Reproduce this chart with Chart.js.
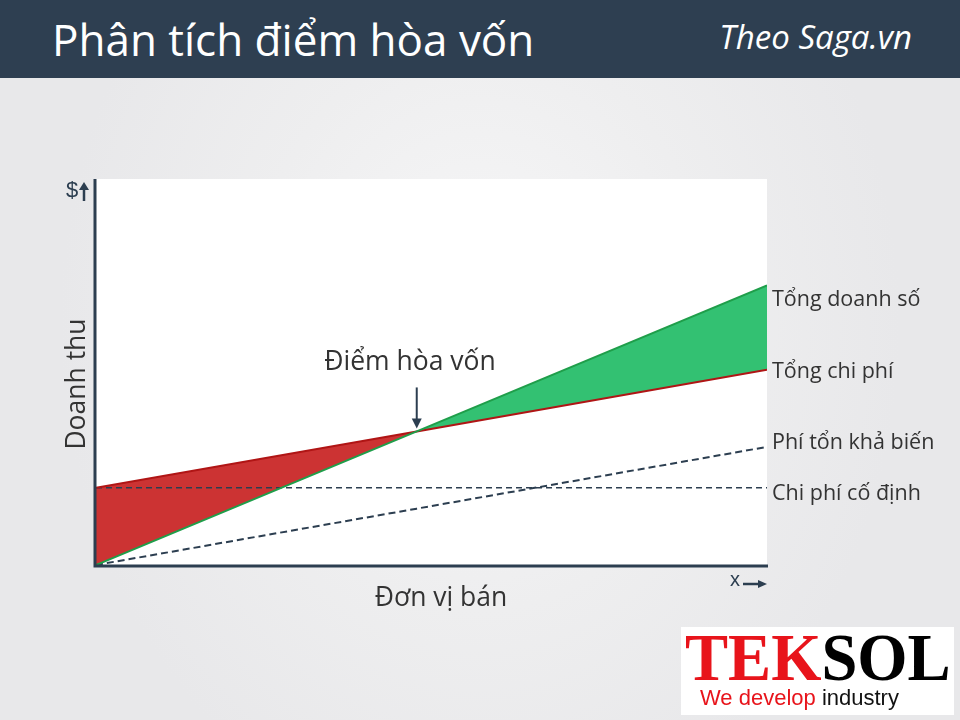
<!DOCTYPE html>
<html>
<head>
<meta charset="utf-8">
<script src="https://cdn.jsdelivr.net/npm/chart.js@4"></script>
<style>
  body{
    margin:0;
    width:960px;
    height:720px;
    overflow:hidden;
    position:relative;
    font-family:"Open Sans", sans-serif;
    background: radial-gradient(ellipse 420px 520px at 50% 45%, #f7f7f8 0%, #eeeeef 55%, #e8e8ea 100%);
  }
  .header{
    position:absolute; left:0; top:0; width:960px; height:78px;
    background:#2e3f51; color:#fff;
  }
  .title{ position:absolute; left:52px; top:9px; font-size:44px; }
  .source{ position:absolute; right:48px; top:14px; font-size:33px; font-style:italic; }
  canvas{ position:absolute; left:0; top:0; }
  .lbl{ position:absolute; color:#333; font-size:21.5px; white-space:nowrap; }
  .big-lbl{ font-size:26.5px; transform:translate(-50%,-50%); }
  .logo{
    position:absolute; left:681px; top:627px; width:273px; height:88px; background:#fff;
  }
  .logo .big{
    position:absolute; left:4px; top:-9px; font-family:"Liberation Serif", serif;
    font-weight:bold; font-size:68px; transform:scaleX(0.95); transform-origin:left top;
    white-space:nowrap;
  }
  .logo .small{
    position:absolute; left:19px; top:58px; font-family:"Liberation Sans", sans-serif; font-size:22px;
    white-space:nowrap;
  }
</style>
</head>
<body>
<div class="header">
  <div class="title">Phân tích điểm hòa vốn</div>
  <div class="source">Theo Saga.vn</div>
</div>

<canvas id="chart" width="960" height="720"></canvas>

<div class="lbl" style="left:66px;top:177px;font-size:22px;font-family:'Liberation Sans',sans-serif;color:#2c3e50">$</div>
<div class="lbl" style="left:730px;top:568px;font-size:20px;font-family:'Liberation Sans',sans-serif;color:#2c3e50">x</div>
<div class="lbl big-lbl" style="left:75px;top:384px;transform:translate(-50%,-50%) rotate(-90deg)">Doanh thu</div>
<div class="lbl big-lbl" style="left:441px;top:596px">Đơn vị bán</div>
<div class="lbl big-lbl" style="left:410px;top:360px">Điểm hòa vốn</div>
<div class="lbl" style="left:772px;top:283px">Tổng doanh số</div>
<div class="lbl" style="left:772px;top:355px">Tổng chi phí</div>
<div class="lbl" style="left:772px;top:426px">Phí tổn khả biến</div>
<div class="lbl" style="left:772px;top:477px">Chi phí cố định</div>

<div class="logo">
  <div class="big"><span style="color:#e8141b">TEK</span><span style="color:#000">SOL</span></div>
  <div class="small"><span style="color:#e8141b">We develop</span> <span style="color:#111">industry</span></div>
</div>

<script>
// units sold (0, break-even, end)
const units = [0, 4.78, 10];
const revenue = [0, 3.46, 7.24];
const totalCost = [2, 3.46, 5.06];
const variableCost = [0, 1.46, 3.06];
const fixedCost = [2, 2, 2];

function pts(arr){
  return arr.map((v, i) => ({x: units[i], y: v}));
}

const frame = {
  id: 'frame',
  beforeDraw(chart){
    const {ctx, chartArea: a} = chart;
    ctx.save();
    ctx.fillStyle = '#fff';
    ctx.fillRect(a.left, a.top, a.right - a.left, a.bottom - a.top);
    ctx.restore();
  },
  afterDraw(chart){
    const {ctx, chartArea: a} = chart;
    const dark = '#2c3e50';
    ctx.save();
    ctx.strokeStyle = dark;
    ctx.fillStyle = dark;
    ctx.lineWidth = 3;
    ctx.beginPath();
    ctx.moveTo(a.left - 1, a.top);
    ctx.lineTo(a.left - 1, a.bottom + 1);
    ctx.lineTo(a.right + 1, a.bottom + 1);
    ctx.stroke();

    // $ arrow
    ctx.lineWidth = 2.5;
    ctx.beginPath();
    ctx.moveTo(84, 201); ctx.lineTo(84, 188); ctx.stroke();
    ctx.beginPath();
    ctx.moveTo(79, 190); ctx.lineTo(84, 182); ctx.lineTo(89, 190); ctx.fill();

    // x arrow
    ctx.beginPath();
    ctx.moveTo(743, 584); ctx.lineTo(760, 584); ctx.stroke();
    ctx.beginPath();
    ctx.moveTo(758, 580); ctx.lineTo(767, 584); ctx.lineTo(758, 588); ctx.fill();

    // break-even arrow
    const bx = chart.scales.x.getPixelForValue(units[1]);
    const by = chart.scales.y.getPixelForValue(revenue[1]);
    ctx.lineWidth = 2;
    ctx.beginPath();
    ctx.moveTo(bx, by - 44); ctx.lineTo(bx, by - 10); ctx.stroke();
    ctx.beginPath();
    ctx.moveTo(bx - 5, by - 13); ctx.lineTo(bx, by - 3); ctx.lineTo(bx + 5, by - 13); ctx.fill();
    ctx.restore();
  }
};

new Chart(document.getElementById('chart'), {
  type: 'line',
  data: {
    datasets: [
      {
        label: 'Tổng doanh số',
        data: pts(revenue),
        borderColor: '#1f9e4a',
        borderWidth: 2,
        pointRadius: 0,
        fill: {target: 1, above: '#33c172', below: '#cc3333'}
      },
      {
        label: 'Tổng chi phí',
        data: pts(totalCost),
        borderColor: '#b01515',
        borderWidth: 2,
        pointRadius: 0,
        fill: false
      },
      {
        label: 'Phí tổn khả biến',
        data: pts(variableCost),
        borderColor: '#2c3e50',
        borderWidth: 2,
        borderDash: [7, 4],
        pointRadius: 0,
        fill: false
      },
      {
        label: 'Chi phí cố định',
        data: pts(fixedCost),
        borderColor: '#2c3e50',
        borderWidth: 1.5,
        borderDash: [6, 4],
        pointRadius: 0,
        fill: false
      }
    ]
  },
  options: {
    responsive: false,
    animation: false,
    layout: {
      padding: {left: 96, top: 179, right: 193, bottom: 155}
    },
    scales: {
      x: {type: 'linear', min: 0, max: 10, display: false},
      y: {min: 0, max: 10, display: false}
    },
    plugins: {
      legend: {display: false},
      tooltip: {enabled: false},
      filler: {drawTime: 'beforeDatasetsDraw'}
    }
  },
  plugins: [frame]
});
</script>
</body>
</html>
